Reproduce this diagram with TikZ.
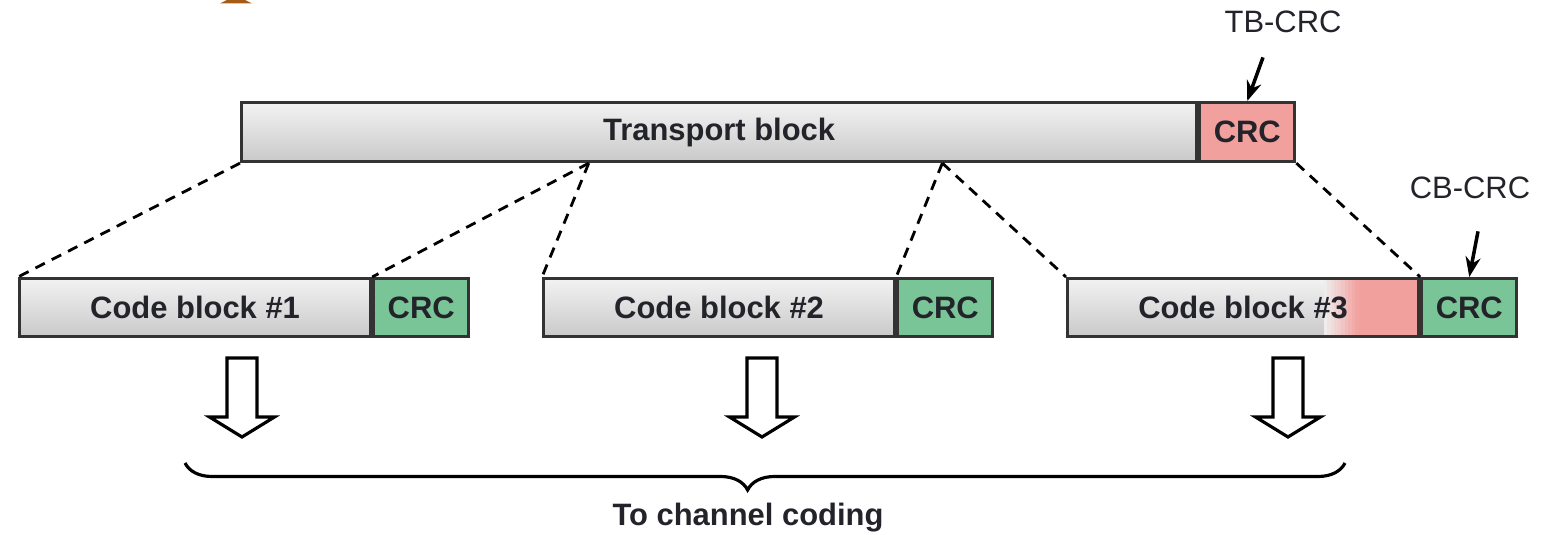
\documentclass[tikz,border=0pt]{standalone}
\usepackage{fontspec}
\setmainfont{Liberation Sans}
\usepackage{xcolor}
\usepackage{tikz}
\usetikzlibrary{arrows.meta,positioning,calc,decorations.pathreplacing}
\definecolor{crcred}{RGB}{241,160,158}
\definecolor{crcgreen}{RGB}{122,197,152}
\definecolor{inkdark}{RGB}{35,35,42}
\definecolor{smudge}{RGB}{165,92,22}
\colorlet{tailbase}{gray!12}
\tikzset{
  base/.style={draw=black!80, line width=0.9pt, minimum height=5.8mm, inner sep=0pt, font=\fontsize{8.8}{10}\selectfont\bfseries, text=inkdark},
  graybox/.style={base, top color=gray!10, middle color=white, bottom color=gray!42},
  crcbox/.style={base, minimum width=9.5mm},
  redtail/.style={path picture={
    \foreach \k [evaluate=\k as \p using int(10*\k+5)] in {0,...,9}
      \fill[crcred!\p!tailbase] ($(path picture bounding box.north east)+(-0.95+0.035*\k,0)$) rectangle ($(path picture bounding box.south east)+(-0.91+0.035*\k,0)$);
    \fill[crcred] ($(path picture bounding box.north east)+(-0.6,0)$) rectangle (path picture bounding box.south east);}},
  cut/.style={dashed, line width=0.8pt, dash pattern=on 3pt off 2.2pt},
  ptr/.style={-{Stealth[length=2mm,width=1.5mm]}, line width=1pt},
  lbl/.style={font=\fontsize{8.8}{10}\selectfont, text=inkdark},
  hollow/.style={draw=black, line width=0.9pt, fill=white},
  brc/.style={decorate, decoration={brace, mirror, amplitude=0.27cm, aspect=0.485}, line width=0.9pt}}
\begin{document}
\begin{tikzpicture}
  \useasboundingbox (0,0) rectangle (15.65,-5.35);
  \fill[smudge] (2.27,0) -- (2.45,0) -- (2.52,-0.035) -- (2.20,-0.035) -- cycle;

  % transport block with its CRC
  \node[graybox, minimum width=9.55cm, minimum height=5.9mm, anchor=north west] (tb) at (2.40,-1.01) {Transport block};
  \node[crcbox, fill=crcred, minimum height=5.9mm, anchor=west] (tbcrc) at (tb.east) {CRC};
  \node[lbl] (tblbl) at (12.83,-0.22) {TB-CRC};
  \draw[ptr] ($(tblbl.south)+(-0.2,-0.12)$) -- (tbcrc.north);

  % code blocks
  \foreach \i/\x/\extra in {1/0.18/{}, 2/5.42/{}, 3/10.66/redtail} {
    \node[graybox, \extra, minimum width=3.51cm, anchor=north west] (cb\i) at (\x,-2.77) {Code block \#\i};
    \node[crcbox, fill=crcgreen, anchor=west] (crc\i) at (cb\i.east) {CRC};
  }
  \node[lbl] (cblbl) at (14.70,-1.88) {CB-CRC};
  \draw[ptr] ($(cblbl.south)+(0.08,-0.2)$) -- (crc3.north);

  % segmentation lines
  \coordinate (s1) at ($(tb.south west)!0.364!(tb.south east)$);
  \coordinate (s2) at ($(tb.south west)!0.733!(tb.south east)$);
  \draw[cut] (tb.south west) -- (cb1.north west);
  \draw[cut] (s1) -- (cb1.north east);
  \draw[cut] (s1) -- (cb2.north west);
  \draw[cut] (s2) -- (cb2.north east);
  \draw[cut] (s2) -- (cb3.north west);
  \draw[cut] (tbcrc.south east) -- (cb3.north east);

  % down arrows
  \foreach \c in {2.42,7.62,12.88} {
    \draw[hollow] (\c-0.15,-3.58) -- (\c+0.15,-3.58) -- (\c+0.15,-4.17) -- (\c+0.325,-4.17)
      -- (\c,-4.37) -- (\c-0.325,-4.17) -- (\c-0.15,-4.17) -- cycle;
  }

  \coordinate (bl) at (1.85,-4.63);
  \coordinate (br) at (13.45,-4.63);
  \draw[brc] (bl) -- (br);
  \node[font=\fontsize{8.8}{10}\selectfont\bfseries, text=inkdark] (dest) at (7.48,-5.18) {To channel coding};
\end{tikzpicture}
\end{document}
